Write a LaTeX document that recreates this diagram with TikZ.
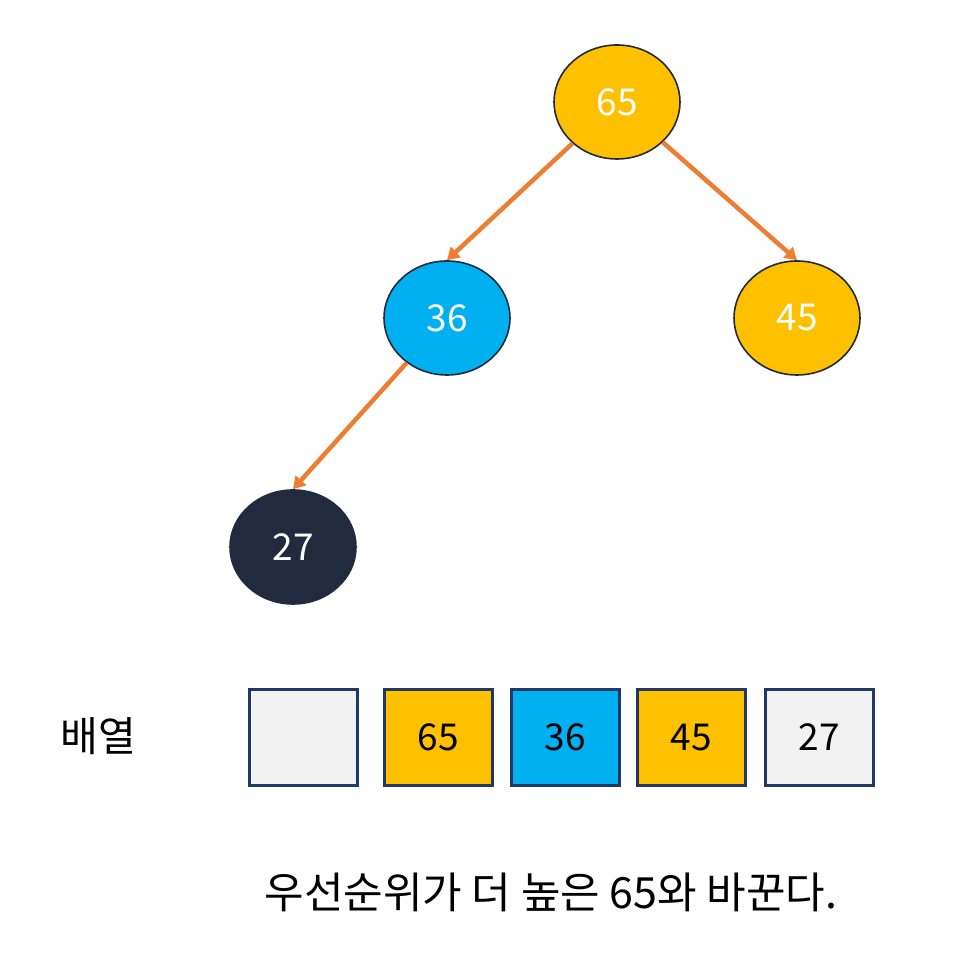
\documentclass[tikz,border=0pt]{standalone}
\usepackage{fontspec}
\setmainfont{Noto Sans CJK KR}
\usetikzlibrary{shapes.geometric,arrows.meta}
\definecolor{gold}{HTML}{FFC000}
\definecolor{sky}{HTML}{00B0F0}
\definecolor{navy}{HTML}{203864}
\definecolor{dark}{HTML}{222B3D}
\definecolor{orng}{HTML}{ED7D31}
\definecolor{lgray}{HTML}{F2F2F2}
\tikzset{
  x=1pt,y=1pt,
  treenode/.style={ellipse,draw=dark,line width=1.6pt,minimum width=126pt,minimum height=114pt,inner sep=0pt,text=white,font=\fontsize{37}{37}\selectfont},
  cell/.style={rectangle,draw=navy,line width=2.2pt,minimum width=108pt,minimum height=96pt,inner sep=0pt,text=black,font=\fontsize{37}{37}\selectfont},
  edge/.style={draw=orng,line width=4.5pt,-{Triangle[length=12pt,width=14pt]}}
}
\begin{document}
\begin{tikzpicture}
\useasboundingbox (0,0) rectangle (957,971);
\node[treenode,fill=gold] (n65) at (617,869) {65};
\node[treenode,fill=sky] (n36) at (447,653) {36};
\node[treenode,fill=gold] (n45) at (797,653) {45};
\node[treenode,fill=dark] (n27) at (293,424) {27};
\draw[edge] (n65) -- (n36.north);
\draw[edge] (n65) -- (n45.north);
\draw[edge] (n36) -- (n27.north);
\node[cell,fill=lgray] (c0) at (303.5,233.5) {};
\node[cell,fill=gold] (c1) at (438.5,233.5) {65};
\node[cell,fill=sky] (c2) at (565.5,233.5) {36};
\node[cell,fill=gold] (c3) at (691.5,233.5) {45};
\node[cell,fill=lgray] (c4) at (819.5,233.5) {27};
\node[font=\fontsize{41}{41}\selectfont] (lbl) at (98,235) {배열};
\node[font=\fontsize{43}{43}\selectfont] (cap) at (551,79) {우선순위가 더 높은 65와 바꾼다.};
\end{tikzpicture}
\end{document}
